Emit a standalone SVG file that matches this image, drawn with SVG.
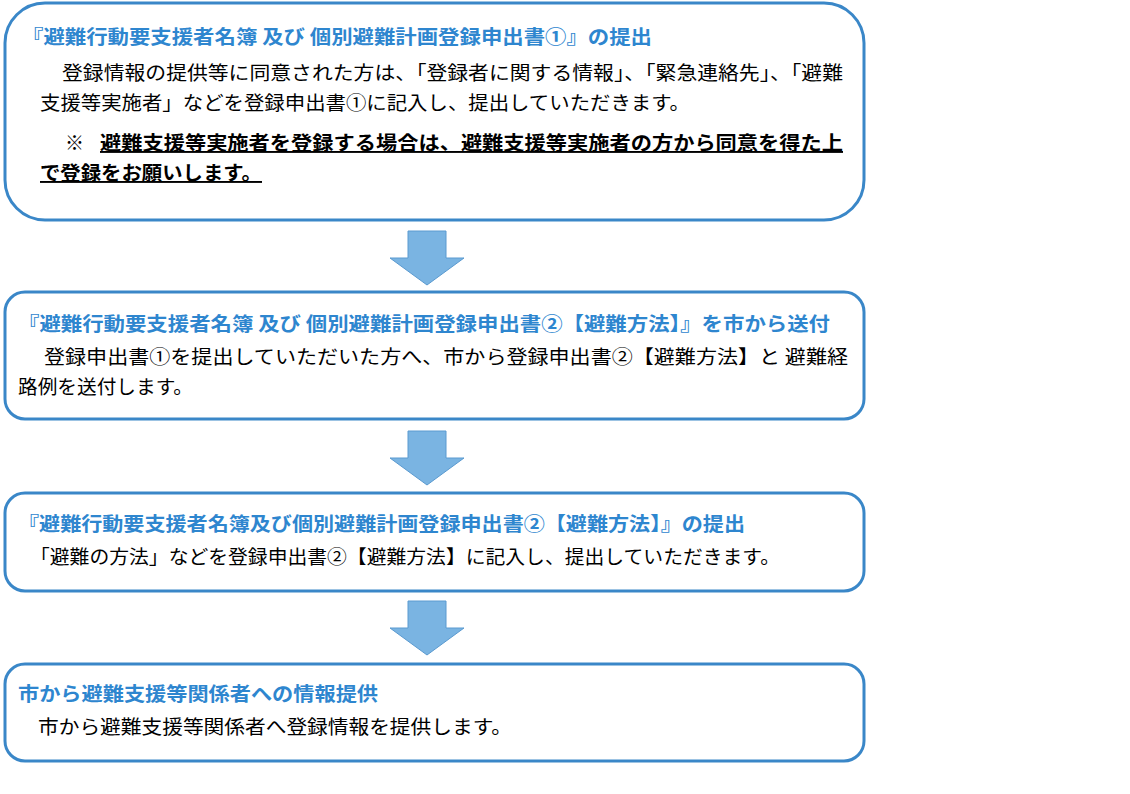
<svg xmlns="http://www.w3.org/2000/svg" width="1130" height="794" viewBox="0 0 1130 794">
<style>
.box{fill:#fff;stroke:#3a87c8;stroke-width:3}
.t{font-family:"Noto Sans CJK JP",sans-serif;font-size:19px;fill:#2e86cf;font-weight:bold}
.b{font-family:"Noto Sans CJK JP",sans-serif;font-size:19px;fill:#000}
.arr{fill:#7ab4e2;stroke:#5a9ad0;stroke-width:1}
</style>
<rect width="1130" height="794" fill="#fff"/>
<g id="n1"><rect class="box" x="5" y="3" width="859" height="217" rx="40"/>
<text class="t" x="22" y="44" textLength="630" lengthAdjust="spacingAndGlyphs">『避難行動要支援者名簿 及び 個別避難計画登録申出書①』の提出</text>
<text class="b" x="62" y="80" textLength="781" lengthAdjust="spacingAndGlyphs">登録情報の提供等に同意された方は、「登録者に関する情報」、「緊急連絡先」、「避難</text>
<text class="b" x="40" y="110" textLength="650" lengthAdjust="spacingAndGlyphs">支援等実施者」などを登録申出書①に記入し、提出していただきます。</text>
<text class="b" x="65" y="150" font-weight="bold">※</text>
<text class="b" x="100" y="150" font-weight="bold" text-decoration="underline" textLength="743" lengthAdjust="spacingAndGlyphs">避難支援等実施者を登録する場合は、避難支援等実施者の方から同意を得た上</text>
<text class="b" x="40" y="180" font-weight="bold" text-decoration="underline" textLength="222" lengthAdjust="spacingAndGlyphs">で登録をお願いします。</text></g>
<g id="n2"><rect class="box" x="5" y="292" width="859" height="127" rx="20"/>
<text class="t" x="18" y="331" textLength="812" lengthAdjust="spacingAndGlyphs">『避難行動要支援者名簿 及び 個別避難計画登録申出書②【避難方法】』を市から送付</text>
<text class="b" x="44" y="364" textLength="804" lengthAdjust="spacingAndGlyphs">登録申出書①を提出していただいた方へ、市から登録申出書②【避難方法】と 避難経</text>
<text class="b" x="18" y="394" textLength="175" lengthAdjust="spacingAndGlyphs">路例を送付します。</text></g>
<g id="n3"><rect class="box" x="5" y="493" width="859" height="98" rx="20"/>
<text class="t" x="18" y="531" textLength="727" lengthAdjust="spacingAndGlyphs">『避難行動要支援者名簿及び個別避難計画登録申出書②【避難方法】』の提出</text>
<text class="b" x="30" y="564" textLength="750" lengthAdjust="spacingAndGlyphs">「避難の方法」などを登録申出書②【避難方法】に記入し、提出していただきます。</text></g>
<g id="n4"><rect class="box" x="5" y="664" width="859" height="97" rx="20"/>
<text class="t" x="18" y="701" textLength="360" lengthAdjust="spacingAndGlyphs">市から避難支援等関係者への情報提供</text>
<text class="b" x="38" y="734" textLength="474" lengthAdjust="spacingAndGlyphs">市から避難支援等関係者へ登録情報を提供します。</text></g>
<g id="connectors">
<polygon class="arr" points="408,231 446,231 446,258 464,258 427,285 390,258 408,258"/>
<polygon class="arr" points="408,431 446,431 446,458 464,458 427,485 390,458 408,458"/>
<polygon class="arr" points="408,601 446,601 446,628 464,628 427,655 390,628 408,628"/>
</g>
</svg>
